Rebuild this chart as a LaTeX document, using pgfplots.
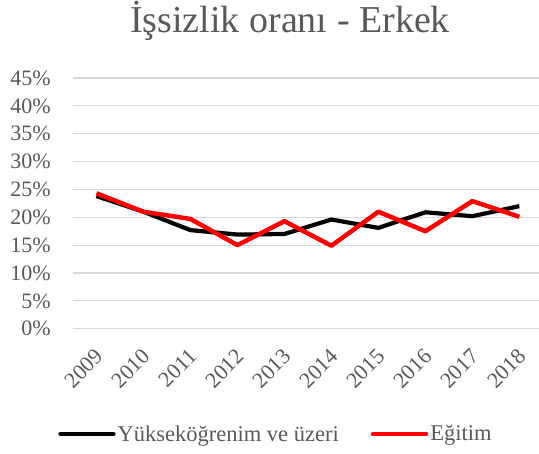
\documentclass[border=0pt]{standalone}
\usepackage{fontspec}
\setmainfont{Liberation Serif}
\usepackage{pgfplots}
\pgfplotsset{compat=1.18}
\definecolor{txt}{RGB}{89,89,89}
\definecolor{gridc}{RGB}{217,217,217}
\definecolor{redl}{RGB}{255,0,0}

\begin{document}
\begin{tikzpicture}
\begin{axis}[
  scale only axis,
  width=469.8pt, height=250.65pt,
  xmin=-0.5, xmax=9.5,
  ymin=0, ymax=45,
  xtick={0,...,9},
  xticklabels={2009,2010,2011,2012,2013,2014,2015,2016,2017,2018},
  ytick={0,5,...,45},
  yticklabels={0\%,5\%,10\%,15\%,20\%,25\%,30\%,35\%,40\%,45\%},
  ymajorgrids,
  major grid style={gridc, line width=1.2pt},
  axis line style={draw=none},
  major tick style={draw=none},
  tick label style={font=\fontsize{22}{26}\selectfont, text=txt, inner sep=0pt},
  yticklabel style={anchor=east, xshift=-22pt},
  xticklabel style={xshift=3pt, yshift=-24pt, rotate=45, anchor=east},
  title={İşsizlik oranı - Erkek},
  title style={at={(axis description cs:0.462,1)}, anchor=base, yshift=40pt,
    font=\fontsize{38}{44}\selectfont, text=txt, inner sep=0pt},
  legend columns=2,
  legend style={at={(axis description cs:0.432,-0.42)}, anchor=center,
    draw=none, fill=none, font=\fontsize{22.5}{26}\selectfont, text=txt,
    /tikz/every even column/.append style={column sep=30pt}},
  legend image code/.code={\draw[#1, line cap=round] (0pt,0pt) -- (53pt,0pt);},
]
\addplot[black, line width=4.2pt, line join=round] coordinates {
  (0,23.8) (1,21.0) (2,17.7) (3,16.9) (4,17.0)
  (5,19.6) (6,18.1) (7,20.9) (8,20.2) (9,22.0)};
\addlegendentry{Yükseköğrenim ve üzeri}
\addplot[redl, line width=4.5pt, line join=round] coordinates {
  (0,24.3) (1,21.0) (2,19.7) (3,15.0) (4,19.3)
  (5,14.9) (6,21.0) (7,17.5) (8,22.9) (9,20.1)};
\addlegendentry{Eğitim}
\end{axis}
\pgfresetboundingbox
\useasboundingbox (-73pt,-125.3pt) rectangle (466pt,328.7pt);
\end{tikzpicture}
\end{document}
